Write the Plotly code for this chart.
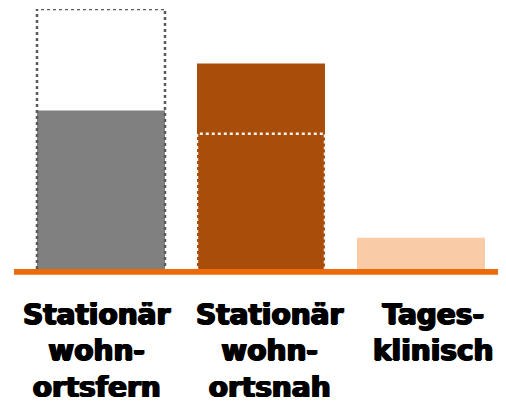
import plotly.graph_objects as go

categories = ["Stationär<br>wohn-<br>ortsfern", "Stationär<br>wohn-<br>ortsnah", "Tages-<br>klinisch"]
values = [61, 79, 12]
outline_values = [100, 52, None]
bar_colors = ["#808080", "#A84E0A", "#F9CBA6"]
outline_colors = ["#5a5a5a", "#f2f2f2", None]
label_shifts = [-5, 8, 12]

x = list(range(len(categories)))
fig = go.Figure()
fig.add_trace(go.Bar(x=x, y=values, marker=dict(color=bar_colors, line=dict(width=0)),
                     width=0.8, showlegend=False, hoverinfo="skip"))

half = 0.4
for i, (ov, oc) in enumerate(zip(outline_values, outline_colors)):
    if ov is None:
        continue
    xs = [i - half, i - half, i + half, i + half]
    ys = [0, ov, ov, 0]
    fig.add_trace(go.Scatter(x=xs, y=ys, mode="lines",
                             line=dict(color=oc, width=2.5, dash="dot"),
                             showlegend=False, hoverinfo="skip"))

# page body has an 8px margin, so the figure is drawn 8px in from the window edge
OFF = 8
W, H = 506 - OFF, 405 - OFF
L, R, T, B = 21 - OFF, 5, 9 - OFF, 136
pw = W - L - R
ph = H - T - B

# baseline
fig.add_shape(type="rect", xref="paper", yref="paper",
              x0=(14 - OFF - L) / pw, x1=(W - L) / pw,
              y0=-5.7 / ph, y1=0, fillcolor="#EC6A08", line=dict(width=0), layer="above")

for i, (c, s) in enumerate(zip(categories, label_shifts)):
    fig.add_annotation(x=i, y=0, xref="x", yref="paper", yanchor="top", xanchor="center",
                       text=c, showarrow=False, xshift=s, yshift=-27, align="center",
                       font=dict(family="DejaVu Sans", size=28, color="#000", weight="bold",
                                 shadow="1px 0 0 #000, -1px 0 0 #000, 0 0.5px 0 #000"))

fig.update_layout(
    width=W, height=H, margin=dict(l=L, r=R, t=T, b=B, pad=0),
    paper_bgcolor="white", plot_bgcolor="white",
    xaxis=dict(range=[-0.5, 2.5], visible=False, fixedrange=True),
    yaxis=dict(range=[0, 100], visible=False, fixedrange=True),
    bargap=0.2,
)
fig.write_html("out.html")
